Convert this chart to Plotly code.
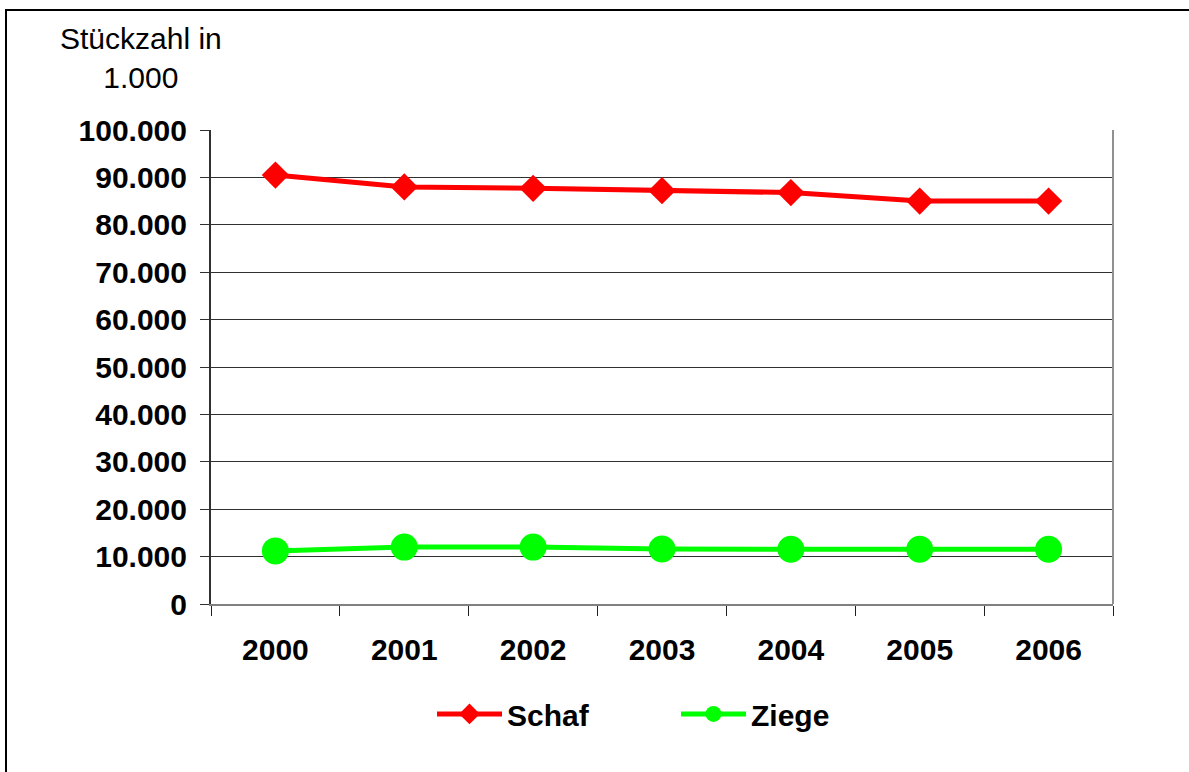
import plotly.graph_objects as go

years = ["2000", "2001", "2002", "2003", "2004", "2005", "2006"]
schaf = [90500, 88000, 87700, 87200, 86800, 85000, 85000]
ziege = [11200, 12000, 12000, 11600, 11550, 11550, 11550]
y_ticks = [0, 10000, 20000, 30000, 40000, 50000, 60000, 70000, 80000, 90000, 100000]

FONT = "Liberation Sans, Arial, sans-serif"
FS = 30

fig = go.Figure()
fig.add_trace(go.Scatter(
    x=years, y=schaf, name="Schaf", mode="lines+markers",
    line=dict(color="#FF0000", width=5),
    marker=dict(symbol="diamond", size=21, color="#FF0000"),
))
fig.add_trace(go.Scatter(
    x=years, y=ziege, name="Ziege", mode="lines+markers",
    line=dict(color="#00FF00", width=5),
    marker=dict(symbol="circle", size=27, color="#00FF00"),
))

fig.update_layout(
    width=1189, height=772,
    margin=dict(l=211, r=76, t=130, b=168),
    paper_bgcolor="white", plot_bgcolor="white",
    separators=",.",
    font=dict(family=FONT, size=FS, color="black"),
    showlegend=True,
    legend=dict(
        orientation="h", x=(438 - 6 - 211) / 902, xanchor="left", y=-0.232, yanchor="middle",
        font=dict(family=FONT, size=FS, color="black", weight="bold"),
        entrywidth=164, entrywidthmode="pixels", itemwidth=65,
        bgcolor="rgba(0,0,0,0)",
    ),
    xaxis=dict(
        type="category", range=[-0.5, 6.5],
        showgrid=False, showline=True, linecolor="#808080", linewidth=1.5,
        ticks="outside", tickson="boundaries", ticklen=10, tickcolor="#202020",
        tickfont=dict(family=FONT, size=FS, color="black", weight="bold"),
        ticklabelstandoff=18, zeroline=False,
    ),
    yaxis=dict(
        range=[0, 100000], tickvals=y_ticks, tickformat=",d",
        showgrid=True, gridcolor="#303030", gridwidth=1,
        showline=True, linecolor="#303030", linewidth=2,
        ticks="outside", ticklen=9, tickcolor="#303030",
        tickfont=dict(family=FONT, size=FS, color="black", weight="bold"),
        ticklabelstandoff=7, zeroline=False,
    ),
    shapes=[
        dict(type="line", xref="paper", yref="paper", x0=1, x1=1, y0=0, y1=1,
             line=dict(color="#909090", width=2)),
        dict(type="rect", xref="paper", yref="paper",
             x0=(6 - 211) / 902, x1=(1300 - 211) / 902,
             y0=(604 - 900) / 474, y1=(604 - 10) / 474,
             line=dict(color="black", width=2), fillcolor="rgba(0,0,0,0)", layer="below"),
    ],
    annotations=[
        dict(text="Stückzahl in<br>1.000", xref="paper", yref="paper",
             x=(141 - 211) / 902, y=(604 - 20) / 474, xanchor="center", yanchor="top",
             showarrow=False, align="center",
             font=dict(family=FONT, size=FS, color="black")),
    ],
)

fig.write_html("out.html", config={"displayModeBar": False},
               post_script="document.body.style.margin='0';")
